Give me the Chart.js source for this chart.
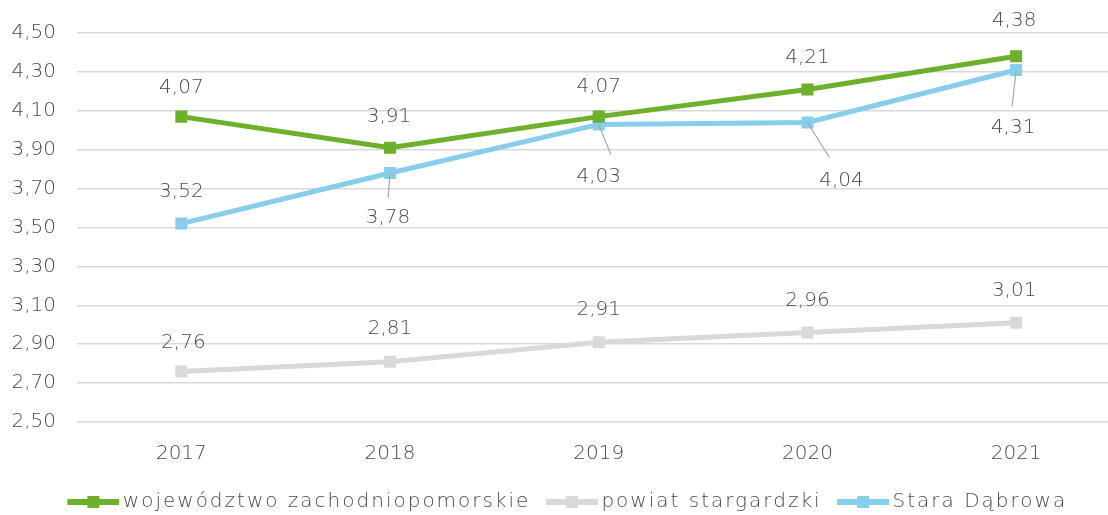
<!DOCTYPE html>
<html>
<head>
<meta charset="utf-8">
<script src="https://cdn.jsdelivr.net/npm/chart.js@4/dist/chart.umd.min.js"></script>
<style>
  html, body { margin: 0; padding: 0; overflow: hidden; background: #fff; }
</style>
</head>
<body>
<canvas id="myChart" width="1129" height="515"></canvas>
<script>
const years = ['2017', '2018', '2019', '2020', '2021'];
const wojewodztwo = [4.07, 3.91, 4.07, 4.21, 4.38];
const powiat = [2.76, 2.81, 2.91, 2.96, 3.01];
const staraDabrowa = [3.52, 3.78, 4.03, 4.04, 4.31];

const seriesNames = ['województwo zachodniopomorskie', 'powiat stargardzki', 'Stara Dąbrowa'];
const colors = ['#6DB02C', '#D9D9D9', '#88CDEB'];

const FONT = 'DejaVu Sans';
const WEIGHT = 300;
const TEXT = '#4A4A4A';

// label offsets from the point [dx, dy], and leader end (null = no leader)
const labelPos = [
  [[0, -29], [-1, -31], [0, -30], [0, -32], [-2, -36]],
  [[2, -29], [0, -33], [0, -32], [0, -32], [-2, -32]],
  [[0, -32], [-2, 45], [0, 52], [34, 58], [-3, 58]]
];
const leaders = [
  [null, null, null, null, null],
  [null, null, null, null, null],
  [null, [-2, 25], [12, 30], [22, 35], [-4, 36]]
];

// legend icon: line with square marker, shifted right inside the image
function legendIcon(color) {
  const c = document.createElement('canvas');
  c.width = 64; c.height = 14;
  const g = c.getContext('2d');
  g.fillStyle = color;
  g.fillRect(12, 4, 52, 6);
  g.fillRect(32, 1, 12, 12);
  return c;
}
const icons = colors.map(legendIcon);

// wider legend text (the original font is much wider)
const legendSpacing = {
  id: 'legendSpacing',
  afterInit(chart) {
    const lg = chart.legend;
    ['fit', 'draw'].forEach(fn => {
      const orig = lg[fn];
      lg[fn] = function () {
        const c = chart.ctx;
        c.letterSpacing = '2px';
        const r = orig.apply(this, arguments);
        c.letterSpacing = '0px';
        return r;
      };
    });
  }
};

const dataLabels = {
  id: 'dataLabels',
  afterDatasetsDraw(chart) {
    const ctx = chart.ctx;
    ctx.save();
    ctx.font = WEIGHT + ' 20px "' + FONT + '"';
    ctx.fillStyle = TEXT;
    ctx.textAlign = 'center';
    ctx.textBaseline = 'middle';
    chart.data.datasets.forEach((ds, d) => {
      chart.getDatasetMeta(d).data.forEach((pt, i) => {
        const off = labelPos[d][i];
        const ld = leaders[d][i];
        if (ld) {
          ctx.beginPath();
          ctx.strokeStyle = '#A6A6A6';
          ctx.lineWidth = 1.2;
          ctx.moveTo(pt.x, pt.y);
          ctx.lineTo(pt.x + ld[0], pt.y + ld[1]);
          ctx.stroke();
        }
        ctx.fillText(ds.data[i].toFixed(2).replace('.', ','), pt.x + off[0], pt.y + off[1]);
      });
    });
    ctx.restore();
  }
};

function makeSet(label, data, color) {
  return {
    label: label,
    data: data,
    borderColor: color,
    backgroundColor: color,
    borderWidth: 5,
    pointStyle: 'rect',
    pointRadius: 8.5,
    pointBorderWidth: 0,
    pointHoverRadius: 8.5,
    tension: 0
  };
}

const ctx = document.getElementById('myChart');
new Chart(ctx, {
  type: 'line',
  data: {
    labels: years,
    datasets: [
      makeSet(seriesNames[0], wojewodztwo, colors[0]),
      makeSet(seriesNames[1], powiat, colors[1]),
      makeSet(seriesNames[2], staraDabrowa, colors[2])
    ]
  },
  options: {
    responsive: false,
    animation: false,
    layout: { padding: { top: 33, right: 0, bottom: -7, left: 0 } },
    scales: {
      x: {
        offset: true,
        grid: { display: false, drawTicks: false },
        border: { display: false },
        ticks: { color: TEXT, font: { family: FONT, size: 20, weight: WEIGHT }, padding: 20 },
        afterFit(scale) { scale.height = 60; }
      },
      y: {
        min: 2.5,
        max: 4.5,
        grid: { color: '#D9D9D9', lineWidth: 1.5, drawTicks: false },
        border: { display: false },
        ticks: {
          stepSize: 0.2,
          color: TEXT,
          font: { family: FONT, size: 20, weight: WEIGHT },
          padding: 21,
          callback: v => v.toFixed(2).replace('.', ',')
        },
        afterFit(scale) { scale.width = 77; }
      }
    },
    plugins: {
      tooltip: { enabled: false },
      legend: {
        position: 'bottom',
        labels: {
          color: TEXT,
          font: { family: FONT, size: 20, weight: WEIGHT },
          usePointStyle: true,
          pointStyleWidth: 51,
          padding: 10,
          generateLabels(chart) {
            const items = Chart.defaults.plugins.legend.labels.generateLabels(chart);
            items.forEach((it, i) => { it.pointStyle = icons[i]; });
            return items;
          }
        }
      }
    }
  },
  plugins: [legendSpacing, dataLabels]
});
</script>
</body>
</html>
